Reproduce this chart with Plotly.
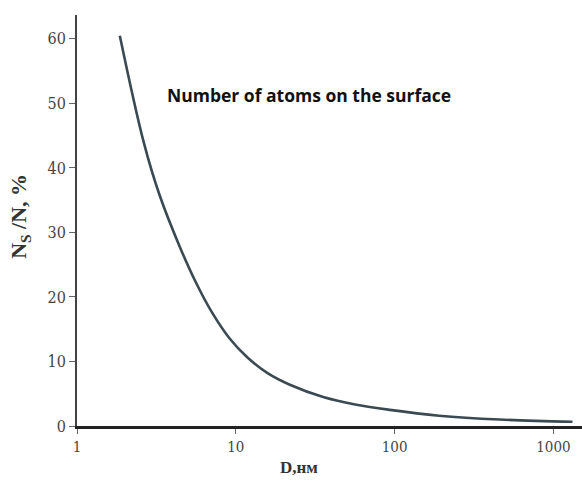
import plotly.graph_objects as go

# Data
diameter_nm = [1.86, 2.63, 3.31, 4.47, 5.62, 7.08, 9.12, 11.75, 15.85, 21.9, 35.5, 57.5, 93.3, 190.5, 457.0, 1318.0]
surface_pct = [60.5, 44.0, 35.8, 27.6, 22.2, 17.6, 13.6, 10.7, 8.2, 6.4, 4.5, 3.3, 2.5, 1.6, 1.0, 0.65]
x_tickvals = [1, 10, 100, 1000]
x_ticktext = ["1", "10", "100", "1000"]
y_tickvals = [0, 10, 20, 30, 40, 50, 60]

fig = go.Figure()
fig.add_trace(go.Scatter(
    x=diameter_nm, y=surface_pct, mode="lines",
    line=dict(color="#3b4a52", width=2.6, shape="spline", smoothing=1.0),
    showlegend=False, hoverinfo="skip",
))

tickfam = "DejaVu Serif Condensed, Liberation Serif, serif"
serif = "Liberation Serif"
fig.update_layout(
    width=582, height=481,
    margin=dict(l=77, r=0, t=15, b=55),
    paper_bgcolor="white", plot_bgcolor="white",
    xaxis=dict(
        type="log", range=[0, 3.18],
        tickvals=x_tickvals, ticktext=x_ticktext,
        ticks="outside", ticklen=5, tickwidth=1.2, tickcolor="#666",
        showgrid=False, zeroline=False,
        showline=True, linecolor="#222", linewidth=3,
        tickfont=dict(family=tickfam, size=15, color="#444"),
    ),
    yaxis=dict(
        range=[0, 63.7],
        tickvals=y_tickvals,
        ticks="outside", ticklen=6, tickwidth=1.2, tickcolor="#666",
        showgrid=False, zeroline=False,
        showline=True, linecolor="#444", linewidth=2,
        tickfont=dict(family=tickfam, size=16, color="#444"),
    ),
    annotations=[
        dict(text="<b>Number of atoms on the surface</b>", xref="paper", yref="paper",
             x=0.459, y=0.805, xanchor="center", yanchor="middle", showarrow=False,
             font=dict(family="Open Sans", size=17.5, color="#111")),
        dict(text="<b>D,нм</b>", xref="paper", yref="paper",
             x=0.44, y=-0.128, xanchor="center", yanchor="bottom", showarrow=False,
             font=dict(family=serif, size=17, color="#333")),
        dict(text="<b>N<sub>S</sub> /N, %</b>", xref="paper", yref="paper",
             x=-0.112, y=0.51, xanchor="center", yanchor="middle",
             textangle=-90, showarrow=False,
             font=dict(family=serif, size=22, color="#333")),
    ],
)

fig.write_html("out.html")
